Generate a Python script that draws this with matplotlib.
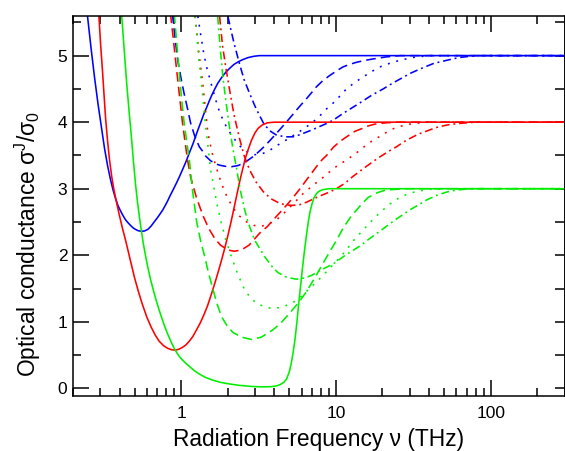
import matplotlib
matplotlib.use('Agg')
import matplotlib.pyplot as plt
from matplotlib.ticker import FixedLocator, FuncFormatter, MultipleLocator, NullFormatter

plt.rcParams['font.family'] = ['Liberation Sans', 'DejaVu Sans']
plt.rcParams['mathtext.default'] = 'regular'

# ---------------- data (frequency in THz, conductance in units of sigma_0) ----------------
blue_solid_nu = [0.243, 0.248, 0.262, 0.276, 0.29, 0.305, 0.32, 0.335, 0.35, 0.363, 0.377, 0.39, 0.405, 0.42,
                 0.435, 0.449, 0.47, 0.49, 0.51, 0.53, 0.556, 0.58, 0.61, 0.64, 0.669, 0.70, 0.73, 0.76, 0.79,
                 0.815, 0.85, 0.89, 0.93, 0.97, 1.0, 1.04, 1.08, 1.13, 1.19, 1.25, 1.30, 1.35, 1.40, 1.46, 1.52,
                 1.58, 1.65, 1.72, 1.80, 1.88, 1.96, 2.08, 2.2, 2.35, 2.5, 2.7, 2.95, 3.2, 4.0, 300]
blue_solid_s = [5.8, 5.6, 5.1, 4.66, 4.28, 3.93, 3.6, 3.34, 3.13, 2.98, 2.85, 2.75, 2.67, 2.6,
                2.54, 2.5, 2.45, 2.41, 2.385, 2.367, 2.36, 2.365, 2.39, 2.44, 2.5, 2.56, 2.62, 2.68, 2.75,
                2.81, 2.9, 2.99, 3.08, 3.17, 3.24, 3.33, 3.42, 3.54, 3.67, 3.81, 3.92, 4.02, 4.12, 4.22, 4.32,
                4.41, 4.5, 4.58, 4.65, 4.71, 4.76, 4.82, 4.87, 4.91, 4.94, 4.97, 4.99, 5.0, 5.0, 5.0]

blue_dash_nu = [0.86, 0.88, 0.92, 0.95, 1.0, 1.045, 1.10, 1.15, 1.22, 1.31, 1.38, 1.44, 1.55, 1.68, 1.8, 1.95,
                2.11, 2.35, 2.63, 2.95, 3.29, 3.7, 4.12, 4.5, 4.78, 5.2, 5.55, 6.0, 6.44, 7.0, 7.47, 8.2, 9.1,
                10.1, 11.1, 12.3, 13.6, 15.5, 17.4, 21, 26, 300]
blue_dash_s = [6.0, 5.6, 5.2, 4.93, 4.65, 4.43, 4.2, 3.99, 3.8, 3.63, 3.56, 3.49, 3.42, 3.37, 3.35, 3.335,
               3.33, 3.35, 3.41, 3.49, 3.59, 3.71, 3.83, 3.93, 4.0, 4.1, 4.18, 4.27, 4.35, 4.45, 4.53, 4.62, 4.70,
               4.77, 4.83, 4.87, 4.90, 4.93, 4.95, 4.98, 5.0, 5.0]

blue_dot_nu = [1.25, 1.28, 1.34, 1.40, 1.46, 1.52, 1.60, 1.68, 1.73, 1.85, 1.96, 2.15, 2.4, 2.65, 2.95, 3.3,
               3.7, 4.1, 4.6, 5.15, 5.83, 6.44, 6.94, 7.5, 8.07, 8.7, 9.34, 10.3, 11.7, 13.3, 15, 17, 19.2, 22,
               25.9, 31, 40, 300]
blue_dot_s = [6.0, 5.6, 5.3, 5.03, 4.83, 4.68, 4.49, 4.32, 4.22, 4.05, 3.93, 3.78, 3.64, 3.56, 3.51, 3.52,
              3.57, 3.64, 3.71, 3.78, 3.86, 3.93, 3.98, 4.05, 4.12, 4.2, 4.26, 4.36, 4.5, 4.6, 4.68, 4.76, 4.83,
              4.88, 4.93, 4.97, 5.0, 5.0]

blue_dd_nu = [1.96, 2.0, 2.1, 2.2, 2.38, 2.55, 2.77, 3.0, 3.21, 3.45, 3.8, 4.1, 4.67, 5.28, 5.83, 6.77, 7.6,
              8.7, 9.6, 11.1, 12.6, 14.3, 16.9, 20.2, 23.4, 27, 30, 35, 42.5, 52, 62, 80, 300]
blue_dd_s = [6.0, 5.6, 5.38, 5.18, 4.88, 4.64, 4.43, 4.24, 4.1, 3.96, 3.86, 3.81, 3.78, 3.78, 3.81, 3.87, 3.92,
             3.98, 4.03, 4.13, 4.21, 4.29, 4.4, 4.5, 4.59, 4.67, 4.73, 4.8, 4.88, 4.93, 4.97, 5.0, 5.0]

red_solid_nu = [0.285, 0.294, 0.302, 0.31, 0.318, 0.325, 0.335, 0.345, 0.356, 0.368, 0.382, 0.397, 0.415, 0.44,
                0.47, 0.50, 0.53, 0.56, 0.60, 0.64, 0.68, 0.72, 0.77, 0.82, 0.87, 0.91, 0.96, 1.01, 1.07, 1.13,
                1.19, 1.25, 1.32, 1.40, 1.48, 1.56, 1.65, 1.74, 1.83, 1.92, 2.01, 2.1, 2.2, 2.3, 2.4, 2.5, 2.6,
                2.72, 2.85, 3.0, 3.15, 3.35, 3.6, 4.0, 300]
red_solid_s = [5.95, 5.6, 5.15, 4.78, 4.38, 4.05, 3.7, 3.42, 3.18, 2.98, 2.8, 2.62, 2.43, 2.2,
               1.92, 1.66, 1.45, 1.27, 1.07, 0.92, 0.8, 0.71, 0.64, 0.6, 0.58, 0.575, 0.585, 0.61, 0.65, 0.71,
               0.78, 0.87, 0.97, 1.1, 1.24, 1.4, 1.58, 1.76, 1.94, 2.12, 2.31, 2.5, 2.72, 2.93, 3.13, 3.3, 3.46,
               3.6, 3.73, 3.84, 3.91, 3.96, 3.99, 4.0, 4.0]

red_dash_nu = [0.84, 0.856, 0.89, 0.92, 0.97, 1.02, 1.06, 1.10, 1.15, 1.25, 1.38, 1.51, 1.65, 1.8, 2.0, 2.2,
               2.45, 2.74, 3.21, 3.6, 4.0, 4.5, 5.0, 5.55, 6.0, 6.44, 7.0, 7.47, 8.1, 8.7, 9.6, 10.6, 11.9,
               13.2, 14.6, 16, 17.8, 21, 25, 300]
red_dash_s = [6.0, 5.6, 5.25, 4.93, 4.45, 3.99, 3.7, 3.43, 3.18, 2.88, 2.6, 2.4, 2.25, 2.15, 2.08, 2.06,
              2.08, 2.15, 2.33, 2.43, 2.55, 2.68, 2.8, 2.93, 3.03, 3.13, 3.24, 3.33, 3.43, 3.5, 3.62, 3.71, 3.79,
              3.86, 3.9, 3.94, 3.97, 3.99, 4.0, 4.0]

red_dot_nu = [1.20, 1.23, 1.30, 1.38, 1.44, 1.49, 1.58, 1.68, 1.82, 1.96, 2.15, 2.38, 2.65, 2.95, 3.21, 3.6,
              4.12, 4.7, 5.28, 6.1, 7.1, 8.26, 9.6, 10.6, 11.7, 13.6, 15.4, 17.4, 19.7, 22.3, 25.2, 30, 38, 300]
red_dot_s = [6.0, 5.6, 5.05, 4.58, 4.15, 3.83, 3.55, 3.33, 3.08, 2.9, 2.72, 2.59, 2.5, 2.45, 2.43, 2.46,
             2.53, 2.65, 2.77, 2.92, 3.05, 3.17, 3.3, 3.37, 3.43, 3.54, 3.64, 3.73, 3.8, 3.88, 3.93, 3.97, 4.0, 4.0]

red_dd_nu = [1.74, 1.77, 1.85, 1.95, 2.05, 2.2, 2.38, 2.55, 2.77, 3.05, 3.38, 3.8, 4.33, 4.8, 5.28, 5.83, 6.5,
             7.2, 7.86, 9.1, 10.07, 11.4, 12.8, 14.6, 16.5, 18.7, 21.5, 24.6, 28.6, 34.1, 40, 46, 53, 62, 80, 300]
red_dd_s = [6.0, 5.6, 5.15, 4.8, 4.5, 4.1, 3.76, 3.5, 3.28, 3.1, 2.96, 2.85, 2.78, 2.755, 2.75, 2.76, 2.8,
            2.85, 2.89, 2.95, 3.0, 3.08, 3.18, 3.28, 3.37, 3.46, 3.55, 3.63, 3.73, 3.82, 3.88, 3.93, 3.96, 3.98,
            4.0, 4.0]

green_solid_nu = [0.405, 0.413, 0.428, 0.444, 0.46, 0.476, 0.492, 0.508, 0.522, 0.537, 0.552, 0.57, 0.59, 0.61,
                  0.635, 0.66, 0.69, 0.72, 0.75, 0.78, 0.81, 0.84, 0.87, 0.90, 0.94, 0.98, 1.03, 1.08, 1.13,
                  1.21, 1.3, 1.42, 1.59, 1.8, 2.0, 2.37, 2.8, 3.3, 3.8, 4.1, 4.35, 4.6, 4.8, 5.0, 5.15, 5.3,
                  5.45, 5.6, 5.75, 5.9, 6.05, 6.2, 6.35, 6.5, 6.65, 6.8, 7.0, 7.2, 7.45, 7.75, 8.2, 9.0, 300]
green_solid_s = [5.9, 5.6, 5.1, 4.6, 4.18, 3.8, 3.4, 3.05, 2.8, 2.58, 2.38, 2.17, 1.98, 1.81,
                 1.63, 1.48, 1.32, 1.18, 1.055, 0.94, 0.84, 0.755, 0.675, 0.605, 0.53, 0.47, 0.415, 0.37, 0.33,
                 0.27, 0.22, 0.17, 0.125, 0.09, 0.07, 0.045, 0.03, 0.022, 0.025, 0.035, 0.055, 0.09, 0.14, 0.25,
                 0.38, 0.55, 0.75, 1.0, 1.28, 1.52, 1.76, 1.98, 2.18, 2.36, 2.52, 2.65, 2.77, 2.86, 2.92, 2.96,
                 2.985, 3.0, 3.0]

green_dash_nu = [0.89, 0.905, 0.935, 0.96, 1.0, 1.045, 1.09, 1.13, 1.18, 1.26, 1.34, 1.42, 1.5, 1.6, 1.7, 1.82,
                 1.98, 2.16, 2.45, 2.84, 3.3, 3.92, 4.4, 5.02, 5.7, 6.44, 7.3, 8.26, 9.1, 10.07, 11.2, 12.5,
                 13.6, 14.8, 16.2, 18.5, 21, 28, 300]
green_dash_s = [6.0, 5.6, 5.2, 4.88, 4.42, 3.99, 3.68, 3.43, 3.0, 2.5, 2.2, 1.98, 1.74, 1.5, 1.28, 1.08,
                0.94, 0.84, 0.77, 0.735, 0.77, 0.88, 0.98, 1.13, 1.28, 1.45, 1.66, 1.88, 2.05, 2.22, 2.42, 2.58,
                2.68, 2.78, 2.87, 2.94, 2.98, 3.0, 3.0]

green_dot_nu = [1.20, 1.23, 1.30, 1.34, 1.39, 1.44, 1.5, 1.55, 1.64, 1.72, 1.82, 1.95, 2.11, 2.3, 2.57, 2.85,
                3.13, 3.5, 3.92, 4.5, 5.28, 5.9, 6.6, 7.5, 8.5, 9.8, 11.4, 13.3, 15.7, 17.7, 19.7, 22.3, 25.9,
                29, 33.2, 40, 50, 300]
green_dot_s = [6.0, 5.6, 4.95, 4.68, 4.3, 3.93, 3.58, 3.28, 2.98, 2.72, 2.48, 2.22, 1.98, 1.74, 1.48, 1.34,
               1.27, 1.22, 1.2, 1.22, 1.29, 1.37, 1.48, 1.6, 1.73, 1.88, 2.05, 2.25, 2.43, 2.56, 2.66, 2.77, 2.87,
               2.92, 2.96, 2.99, 3.0, 3.0]

green_dd_nu = [1.69, 1.72, 1.79, 1.86, 1.95, 2.05, 2.16, 2.27, 2.4, 2.55, 2.7, 2.98, 3.46, 3.9, 4.22, 4.8, 5.55,
               6.3, 7.0, 7.86, 8.7, 9.6, 11.5, 14.3, 16.5, 19.2, 22.5, 25.9, 29.5, 33.2, 38.5, 44.7, 52, 60,
               75, 300]
green_dd_s = [6.0, 5.6, 5.1, 4.68, 4.3, 3.93, 3.6, 3.33, 3.0, 2.72, 2.5, 2.23, 1.98, 1.82, 1.74, 1.67, 1.64,
              1.66, 1.7, 1.77, 1.82, 1.87, 2.0, 2.14, 2.25, 2.36, 2.48, 2.58, 2.67, 2.74, 2.83, 2.9, 2.95, 2.98,
              3.0, 3.0]

x_ticks = [1, 10, 100]
x_tick_labels = ['1', '10', '100']
y_ticks = [0, 1, 2, 3, 4, 5]

# ---------------- figure ----------------
W, H = 565, 451
fig = plt.figure(figsize=(W / 100, H / 100), dpi=100)
left, right, top, bottom = 73, 564.5, 15.7, 396
ax = fig.add_axes([left / W, 1 - bottom / H, (right - left) / W, (bottom - top) / H])
ax.set_xscale('log')
ax.set_xlim(0.2, 300)
ax.set_ylim(-0.115, 5.6)

lw = 1.15
styles = {
    'solid': '-',
    'dash': (0, (6.0, 3.2)),
    'dot': (0, (1.2, 4.2)),
    'dd': (0, (5.0, 2.4, 1.2, 2.4)),
}
curves = [
    (blue_solid_nu, blue_solid_s, 'blue', 'solid'),
    (blue_dash_nu, blue_dash_s, 'blue', 'dash'),
    (blue_dot_nu, blue_dot_s, 'blue', 'dot'),
    (blue_dd_nu, blue_dd_s, 'blue', 'dd'),
    (red_solid_nu, red_solid_s, 'red', 'solid'),
    (red_dash_nu, red_dash_s, 'red', 'dash'),
    (red_dot_nu, red_dot_s, 'red', 'dot'),
    (red_dd_nu, red_dd_s, 'red', 'dd'),
    (green_solid_nu, green_solid_s, 'green', 'solid'),
    (green_dash_nu, green_dash_s, 'green', 'dash'),
    (green_dot_nu, green_dot_s, 'green', 'dot'),
    (green_dd_nu, green_dd_s, 'green', 'dd'),
]
colors = {'blue': '#0000ff', 'red': '#ff0000', 'green': '#00ee00'}
for nu, s, c, st in curves:
    ax.plot(nu, s, color=colors[c], linestyle=styles[st], lw=lw, solid_capstyle='butt',
            dash_capstyle='butt', solid_joinstyle='round')

for sp in ax.spines.values():
    sp.set_linewidth(1.1)

ax.xaxis.set_major_locator(FixedLocator(x_ticks))
ax.xaxis.set_major_formatter(FuncFormatter(lambda v, p: x_tick_labels[x_ticks.index(v)] if v in x_ticks else ''))
minor = [m * 10.0 ** e for e in (-1, 0, 1, 2) for m in range(2, 10)]
ax.xaxis.set_minor_locator(FixedLocator(minor))
ax.xaxis.set_minor_formatter(NullFormatter())
ax.yaxis.set_major_locator(FixedLocator(y_ticks))
ax.yaxis.set_minor_locator(MultipleLocator(0.5))

ax.tick_params(which='major', direction='in', length=11.5, width=1.1, top=True, right=False,
               labelsize=12.5, pad=7)
ax.tick_params(which='minor', direction='in', length=6, width=1.1, top=True, right=False)
ax.tick_params(axis='y', which='major', pad=4)

sec = ax.secondary_yaxis('right')
sec.yaxis.set_major_locator(MultipleLocator(0.5))
sec.tick_params(direction='in', length=7, width=1.1, labelright=False)
sec.spines['right'].set_linewidth(1.1)

fig.text((left + right) / 2 / W, 1 - 446 / H, 'Radiation Frequency ν (THz)', ha='center',
         va='baseline', fontsize=16.4)
fig.text(28 / W, 1 - 244 / H, 'Optical conductance σ$^{J}$/σ$_{0}$', rotation=90,
         ha='center', va='center', fontsize=16.4)

fig.savefig('out.png', dpi=100)
